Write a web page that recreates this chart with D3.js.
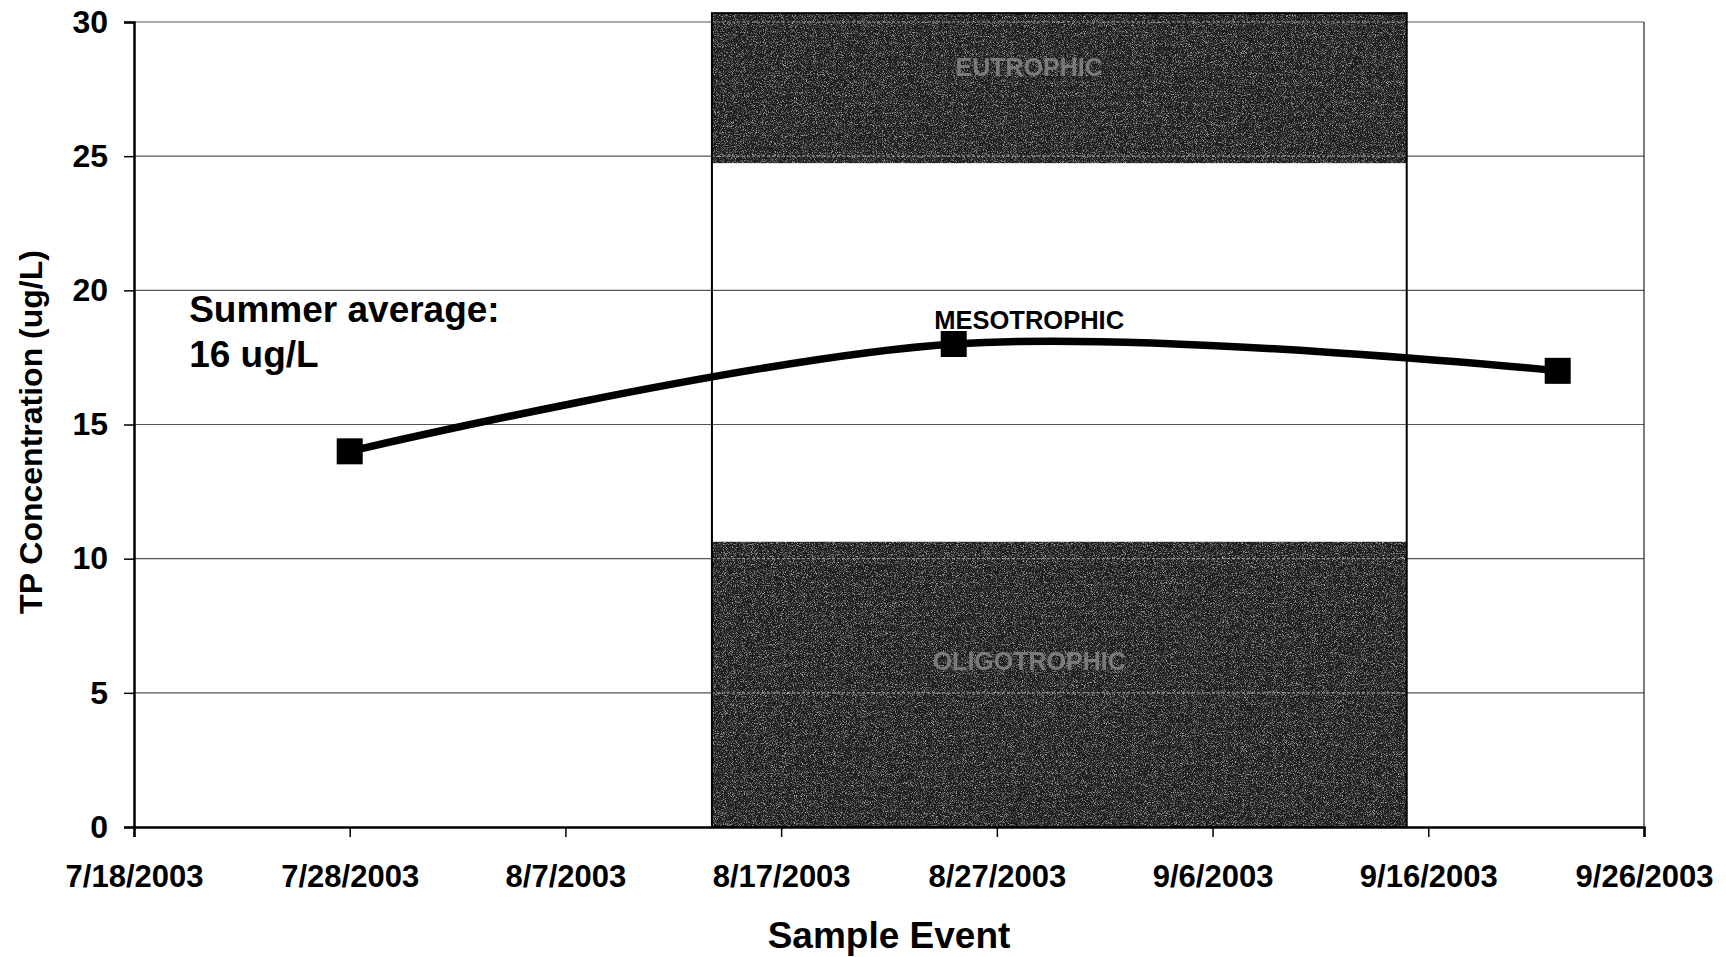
<!DOCTYPE html>
<html>
<head>
<meta charset="utf-8">
<script src="https://cdn.jsdelivr.net/npm/d3@7"></script>
<style>
  body { margin: 0; background: #fff; }
  text { font-family: "Liberation Sans", Arial, sans-serif; font-weight: bold; }
</style>
</head>
<body>
<div id="chart"></div>
<script>
// TP concentration by sample event
const sampleDates = ["2003-07-28", "2003-08-25", "2003-09-22"];
const tpValues = [14, 18, 17];

const xTickDates = ["2003-07-18", "2003-07-28", "2003-08-07", "2003-08-17",
                    "2003-08-27", "2003-09-06", "2003-09-16", "2003-09-26"];
const yTicks = [0, 5, 10, 15, 20, 25, 30];

// trophic state box
const boxDates = ["2003-08-13T19:00", "2003-09-15T00:00"];
const zoneNames = ["EUTROPHIC", "OLIGOTROPHIC"];
const zoneLow = [24.74, 0];
const zoneHigh = [30.33, 10.63];

const parse = d3.timeParse("%Y-%m-%d");
const fmt = d3.timeFormat("%-m/%-d/%Y");

const width = 1726, height = 957;
const margin = {top: 22, right: 82, bottom: 130, left: 134};

const svg = d3.select("#chart").append("svg")
    .attr("width", width)
    .attr("height", height);

const x = d3.scaleTime()
    .domain([parse(xTickDates[0]), parse(xTickDates[xTickDates.length - 1])])
    .range([margin.left, width - margin.right]);

const y = d3.scaleLinear()
    .domain([0, 30])
    .range([height - margin.bottom, margin.top]);

// noise for the scanned grey fill
const defs = svg.append("defs");
const grain = defs.append("filter").attr("id", "grain")
    .attr("x", 0).attr("y", 0).attr("width", 1).attr("height", 1);
grain.append("feTurbulence")
    .attr("type", "fractalNoise").attr("baseFrequency", 1.1)
    .attr("numOctaves", 2).attr("seed", 7);
grain.append("feColorMatrix")
    .attr("type", "matrix")
    .attr("values", "0 0 0 0 1  0 0 0 0 1  0 0 0 0 1  3.6 0 0 0 -1.75");

// gridlines
svg.append("g")
    .selectAll("line")
    .data(yTicks.filter(d => d > 0))
    .enter().append("line")
    .attr("x1", margin.left).attr("x2", width - margin.right)
    .attr("y1", d => y(d)).attr("y2", d => y(d))
    .attr("stroke", "#555").attr("stroke-width", 1.2);

// dark zones
const x0 = x(d3.isoParse(boxDates[0])), x1 = x(d3.isoParse(boxDates[1]));
zoneNames.forEach((name, i) => {
    const top = y(zoneHigh[i]), bot = y(zoneLow[i]);
    svg.append("rect")
        .attr("x", x0).attr("y", top)
        .attr("width", x1 - x0).attr("height", bot - top)
        .attr("fill", "#1c1c1c");
    svg.append("rect")
        .attr("x", x0).attr("y", top)
        .attr("width", x1 - x0).attr("height", bot - top)
        .attr("fill", "#000")
        .attr("filter", "url(#grain)")
        .attr("opacity", 0.6);
    // faint gridlines showing through
    svg.append("g")
        .selectAll("line")
        .data(yTicks.filter(d => d > zoneLow[i] && d <= zoneHigh[i]))
        .enter().append("line")
        .attr("x1", x0).attr("x2", x1)
        .attr("y1", d => y(d)).attr("y2", d => y(d))
        .attr("stroke", "#bbb").attr("stroke-width", 1.2)
        .attr("stroke-dasharray", "3,2")
        .attr("opacity", 0.7);
});

// axes
const yAxis = svg.append("g")
    .attr("transform", `translate(${margin.left},0)`)
    .call(d3.axisLeft(y).tickValues(yTicks).tickSize(10).tickPadding(16));
yAxis.select(".domain").attr("stroke", "#000").attr("stroke-width", 2.5);
yAxis.selectAll(".tick line").attr("stroke", "#000").attr("stroke-width", 1.5);
yAxis.selectAll(".tick text").attr("font-size", 32).attr("fill", "#000")
    .attr("font-family", "Liberation Sans, Arial, sans-serif").attr("font-weight", "bold");

const xAxis = svg.append("g")
    .attr("transform", `translate(0,${height - margin.bottom})`)
    .call(d3.axisBottom(x).tickValues(xTickDates.map(parse)).tickFormat(fmt)
        .tickSize(10).tickPadding(28));
xAxis.select(".domain").attr("stroke", "#000").attr("stroke-width", 2.5);
xAxis.selectAll(".tick line").attr("stroke", "#000").attr("stroke-width", 1.5);
xAxis.selectAll(".tick text").attr("font-size", 31).attr("fill", "#000")
    .attr("font-family", "Liberation Sans, Arial, sans-serif").attr("font-weight", "bold");

// right border
svg.append("line")
    .attr("x1", width - margin.right).attr("x2", width - margin.right)
    .attr("y1", margin.top).attr("y2", height - margin.bottom)
    .attr("stroke", "#222").attr("stroke-width", 1.2);

// series
const pts = sampleDates.map((d, i) => [x(parse(d)), y(tpValues[i])]);
svg.append("path")
    .attr("d", d3.line().curve(d3.curveCatmullRom.alpha(0))(pts))
    .attr("fill", "none")
    .attr("stroke", "#000")
    .attr("stroke-width", 7.5);

svg.selectAll("rect.marker")
    .data(pts)
    .enter().append("rect")
    .attr("class", "marker")
    .attr("x", d => d[0] - 13).attr("y", d => d[1] - 13)
    .attr("width", 26).attr("height", 26)
    .attr("fill", "#000");

// box outline on top
svg.append("rect")
    .attr("x", x0).attr("y", y(zoneHigh[0]))
    .attr("width", x1 - x0).attr("height", y(0) - y(zoneHigh[0]))
    .attr("fill", "none")
    .attr("stroke", "#000")
    .attr("stroke-width", 2);

// zone labels
const labelDate = d3.isoParse("2003-08-28T12:00");
svg.append("text")
    .attr("x", x(labelDate)).attr("y", y(28.0))
    .attr("text-anchor", "middle").attr("font-size", 25)
    .attr("fill", "#8a8a8a").attr("opacity", 0.8)
    .text(zoneNames[0]);
svg.append("text")
    .attr("x", x(labelDate)).attr("y", y(5.85))
    .attr("text-anchor", "middle").attr("font-size", 25)
    .attr("fill", "#8a8a8a").attr("opacity", 0.8)
    .text(zoneNames[1]);
svg.append("text")
    .attr("x", x(labelDate)).attr("y", y(18.56))
    .attr("text-anchor", "middle").attr("font-size", 25.5)
    .attr("fill", "#000")
    .text("MESOTROPHIC");

// summer average note
const noteX = x(parse("2003-07-20")) + 12;
const note = svg.append("text")
    .attr("x", noteX)
    .attr("y", y(18.82))
    .attr("font-size", 37)
    .attr("fill", "#000");
note.append("tspan").text("Summer average:");
note.append("tspan").attr("x", noteX).attr("dy", 45).text("16 ug/L");

// axis titles
svg.append("text")
    .attr("x", (margin.left + width - margin.right) / 2)
    .attr("y", 948)
    .attr("text-anchor", "middle")
    .attr("font-size", 37)
    .text("Sample Event");

svg.append("text")
    .attr("transform", `translate(42,432) rotate(-90)`)
    .attr("text-anchor", "middle")
    .attr("font-size", 32)
    .text("TP Concentration (ug/L)");
</script>
</body>
</html>
